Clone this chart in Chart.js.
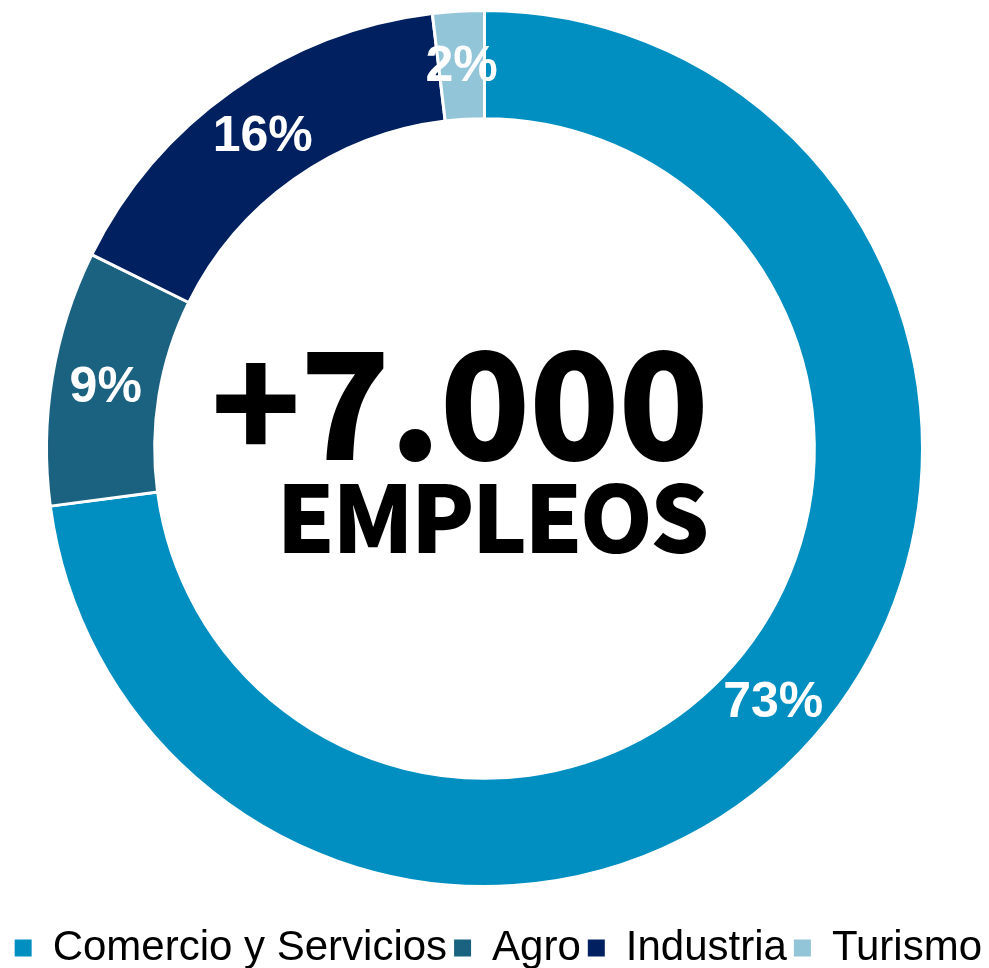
<!DOCTYPE html>
<html><head><meta charset="utf-8">
<script src="https://cdn.jsdelivr.net/npm/chart.js@4"></script>
<style>html,body{margin:0;padding:0;background:#fff;overflow:hidden;width:989px;height:968px;} #wrap{width:1009px;height:1002px;position:absolute;left:-20px;top:-23px;}</style>
</head><body><div id="wrap"><canvas id="c"></canvas></div>
<script>
const categories = ['Comercio y Servicios', 'Agro', 'Industria', 'Turismo'];
const shares = [72.9, 9.4, 15.8, 1.9];
const sliceColors = ['#008FC0', '#1B6180', '#002060', '#92C5D7'];
const centerBig = '+7.000';
const centerSmall = 'EMPLEOS';

const labelPlugin = {
  id: 'sliceLabels',
  afterDatasetsDraw(chart) {
    const ctx = chart.ctx;
    const meta = chart.getDatasetMeta(0);
    const data = chart.data.datasets[0].data;
    const total = data.reduce((a, b) => a + b, 0);
    ctx.save();
    ctx.fillStyle = '#fff';
    ctx.font = 'bold 50px "Liberation Sans", Arial, sans-serif';
    ctx.textAlign = 'center';
    ctx.textBaseline = 'middle';
    meta.data.forEach((arc, i) => {
      const p = arc.getCenterPoint();
      ctx.fillText(Math.round(data[i] / total * 100) + '%', p.x, p.y + 2);
    });
    const a0 = meta.data[0];
    const cx = a0.x, cy = a0.y;
    ctx.fillStyle = '#000';
    ctx.textBaseline = 'alphabetic';
    ctx.textAlign = 'left';
    ctx.font = '900 149px "Noto Sans CJK JP", "Noto Sans CJK SC", Lato, sans-serif';
    ctx.letterSpacing = '-1.5px';
    let w = ctx.measureText(centerBig).width;
    ctx.fillText(centerBig, cx - 25.5 - w / 2, cy + 11);
    ctx.font = '900 93px "Noto Sans CJK JP", "Noto Sans CJK SC", Lato, sans-serif';
    ctx.letterSpacing = '-3px';
    w = ctx.measureText(centerSmall).width;
    ctx.fillText(centerSmall, cx + 7 - w / 2, cy + 104);
    ctx.restore();
  }
};

const baseGen = Chart.overrides.doughnut.plugins.legend.labels.generateLabels;

new Chart(document.getElementById('c'), {
  type: 'doughnut',
  data: {
    labels: categories,
    datasets: [{
      data: shares,
      backgroundColor: sliceColors,
      borderColor: '#fff',
      borderWidth: 3,
      hoverOffset: 0
    }]
  },
  options: {
    responsive: true,
    maintainAspectRatio: false,
    animation: false,
    radius: 438,
    cutout: '75.3%',
    layout: { padding: 0 },
    plugins: {
      tooltip: { enabled: false },
      legend: {
        position: 'bottom',
        align: 'end',
        labels: {
          font: { family: '"Liberation Sans", Arial, sans-serif', size: 42 },
          color: '#000',
          boxWidth: 17,
          boxHeight: 17,
          padding: 7,
          generateLabels(chart) {
            return baseGen(chart).map(l => Object.assign(l, { lineWidth: 0 }));
          }
        }
      }
    }
  },
  plugins: [labelPlugin]
});
</script>
</body></html>
